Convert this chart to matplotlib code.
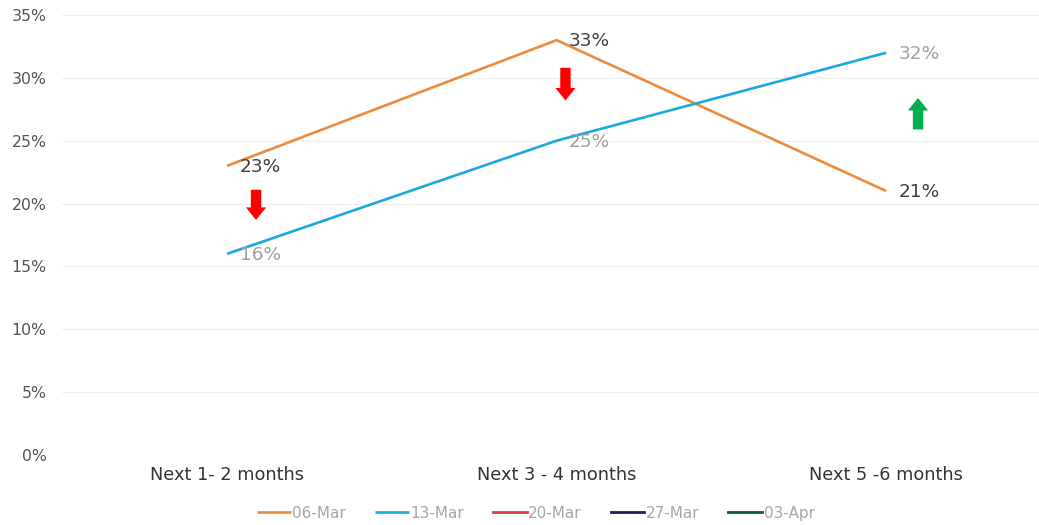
import numpy as np
import matplotlib.pyplot as plt

categories = ["Next 1- 2 months", "Next 3 - 4 months", "Next 5 -6 months"]
series_names = ["06-Mar", "13-Mar", "20-Mar", "27-Mar", "03-Apr"]
mar06 = [23, 33, 21]
mar13 = [16, 25, 32]
colors = ["#ec8b3b", "#1aa9de", "#dc3c44", "#1c1f5c", "#0d5c35"]
yticks = [0, 5, 10, 15, 20, 25, 30, 35]

# change arrows: (category index, x nudge, start %, end %, colour)
arrows = [(0, 0.088, 21.1, 18.7, "#ff0000"),
          (1, 0.027, 30.8, 28.2, "#ff0000"),
          (2, 0.097, 25.9, 28.4, "#00b050")]

plt.rcParams['font.family'] = ['DejaVu Sans']
fig = plt.figure(figsize=(10.39, 5.25), dpi=100)
ax = fig.add_axes([62/1039, 70/525, 977/1039, 440/525])

x = np.arange(len(categories))
ax.plot(x, mar06, color=colors[0], lw=1.9, label=series_names[0], solid_capstyle='butt')
ax.plot(x, mar13, color=colors[1], lw=1.9, label=series_names[1], solid_capstyle='butt')
for i in range(2, 5):
    ax.plot([], [], color=colors[i], lw=2.0, label=series_names[i])

for xi, v in zip(x, mar06):
    ax.annotate(f"{v}%", (xi, v), xytext=(9, -0.5), textcoords='offset points',
                va='center', ha='left', fontsize=13.3, color="#404040")
for xi, v in zip(x, mar13):
    ax.annotate(f"{v}%", (xi, v), xytext=(9, -1), textcoords='offset points',
                va='center', ha='left', fontsize=13.3, color="#a0a0a0")

for ci, dx, y0, y1, c in arrows:
    ax.annotate("", xy=(ci + dx, y1), xytext=(ci + dx, y0),
                arrowprops=dict(arrowstyle="simple,tail_width=0.75,head_width=1.45,head_length=0.9",
                                color=c, mutation_scale=10, shrinkA=0, shrinkB=0, lw=0))

ax.set_xlim(-0.5008, 2.464)
ax.set_ylim(0, 35)
ax.set_yticks(yticks)
ax.set_yticklabels([f"{t}%" for t in yticks], fontsize=11.3, color="#555555")
ax.set_xticks(x)
ax.set_xticklabels(categories, fontsize=12.8, color="#333333")
ax.tick_params(axis='x', length=0, pad=8)
ax.tick_params(axis='y', length=0, pad=11)
ax.grid(axis='y', color="#eeeeee", lw=0.8)
ax.set_axisbelow(True)
for s in ax.spines.values():
    s.set_visible(False)

leg = ax.legend(loc='center', bbox_to_anchor=(0.485, -0.132), ncol=5, frameon=False,
                fontsize=11, handlelength=2.2, handletextpad=0.1, columnspacing=1.9)
for t in leg.get_texts():
    t.set_color("#a6a6a6")

plt.savefig("out.png", dpi=100)
